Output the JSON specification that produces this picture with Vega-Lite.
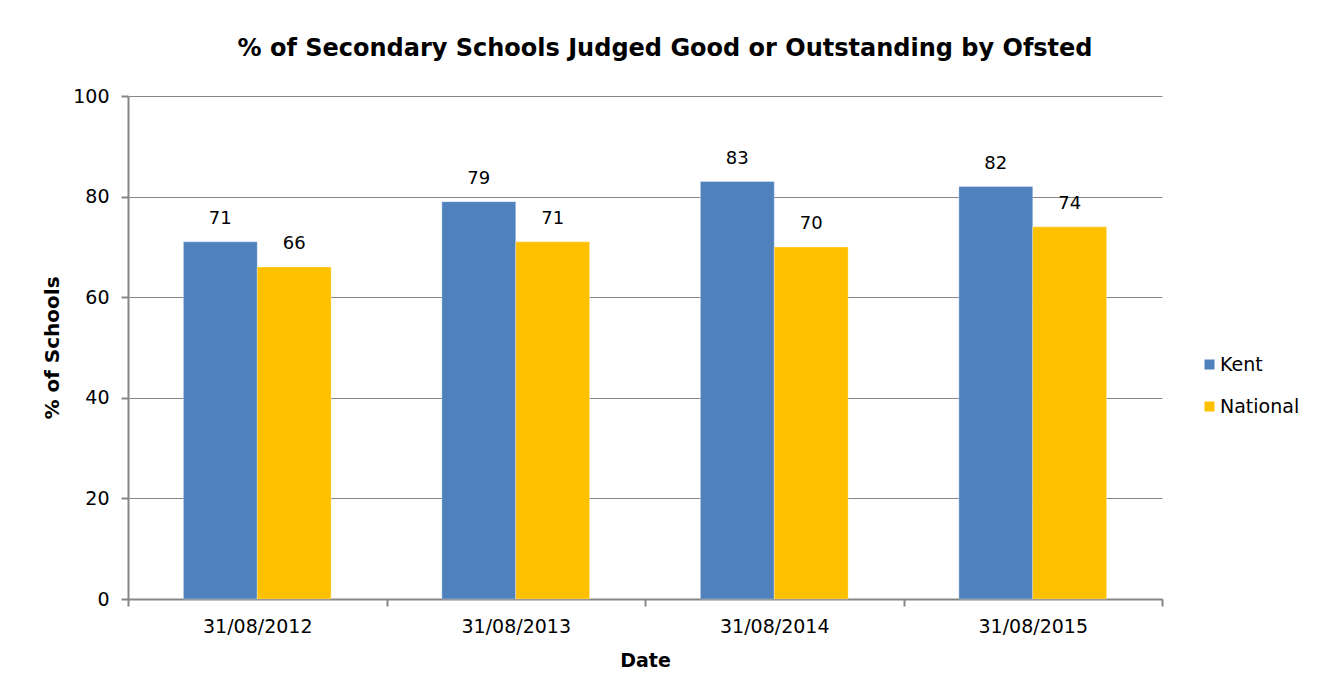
{
  "$schema": "https://vega.github.io/schema/vega-lite/v6.json",
  "autosize": "none",
  "width": 1034,
  "height": 503,
  "padding": {"left": 128, "top": 96, "right": 160, "bottom": 101},
  "background": "white",
  "title": {
    "text": "% of Secondary Schools Judged Good or Outstanding by Ofsted",
    "font": "DejaVu Sans",
    "fontSize": 24,
    "fontWeight": "bold",
    "color": "#000000",
    "anchor": "middle",
    "baseline": "middle",
    "offset": 14,
    "dx": 20
  },
  "data": {
    "values": [
      {"Date": "31/08/2012", "Area": "Kent", "Pct": 71},
      {"Date": "31/08/2012", "Area": "National", "Pct": 66},
      {"Date": "31/08/2013", "Area": "Kent", "Pct": 79},
      {"Date": "31/08/2013", "Area": "National", "Pct": 71},
      {"Date": "31/08/2014", "Area": "Kent", "Pct": 83},
      {"Date": "31/08/2014", "Area": "National", "Pct": 70},
      {"Date": "31/08/2015", "Area": "Kent", "Pct": 82},
      {"Date": "31/08/2015", "Area": "National", "Pct": 74}
    ]
  },
  "encoding": {
    "x": {
      "field": "Date",
      "type": "nominal",
      "scale": {"paddingInner": 0, "paddingOuter": 0},
      "axis": {
        "title": "Date",
        "titleFont": "DejaVu Sans",
        "titleFontSize": 19,
        "titleFontWeight": "bold",
        "titleColor": "#000000",
        "titlePadding": 15,
        "labelFont": "DejaVu Sans",
        "labelFontSize": 19,
        "labelColor": "#000000",
        "labelAngle": 0,
        "labelPadding": 11,
        "domainColor": "#868686",
        "domainWidth": 2,
        "tickColor": "#868686",
        "tickWidth": 2,
        "tickSize": 7,
        "tickBand": "extent",
        "grid": false
      }
    },
    "xOffset": {
      "field": "Area",
      "type": "nominal",
      "scale": {"paddingInner": 0, "paddingOuter": 0.75}
    },
    "y": {
      "field": "Pct",
      "type": "quantitative",
      "scale": {"domain": [0, 100]},
      "axis": {
        "title": "% of Schools",
        "titleFont": "DejaVu Sans",
        "titleFontSize": 20,
        "titleFontWeight": "bold",
        "titleColor": "#000000",
        "titlePadding": 10,
        "values": [0, 20, 40, 60, 80, 100],
        "labelFont": "DejaVu Sans",
        "labelFontSize": 19,
        "labelColor": "#000000",
        "labelPadding": 12,
        "domainColor": "#868686",
        "domainWidth": 2,
        "tickColor": "#868686",
        "tickWidth": 2,
        "tickSize": 7,
        "gridColor": "#868686",
        "gridWidth": 1
      }
    }
  },
  "layer": [
    {
      "mark": {"type": "bar", "stroke": "#ffffff", "strokeWidth": 0.5, "strokeOpacity": 0.6},
      "encoding": {
        "color": {
          "field": "Area",
          "type": "nominal",
          "scale": {"domain": ["Kent", "National"], "range": ["#4F81BD", "#FFC000"]},
          "legend": {
            "title": null,
            "orient": "none",
            "legendX": 1072,
            "legendY": 259,
            "symbolType": "square",
            "symbolSize": 100,
            "symbolStrokeWidth": 0,
            "labelFont": "DejaVu Sans",
            "labelFontSize": 19,
            "labelColor": "#000000",
            "labelOffset": 1,
            "rowPadding": 22
          }
        }
      }
    },
    {
      "mark": {"type": "text", "baseline": "middle", "dy": -23, "font": "DejaVu Sans", "fontSize": 18, "color": "#000000"},
      "encoding": {
        "text": {"field": "Pct", "type": "quantitative"}
      }
    }
  ],
  "config": {
    "view": {"stroke": null}
  }
}
